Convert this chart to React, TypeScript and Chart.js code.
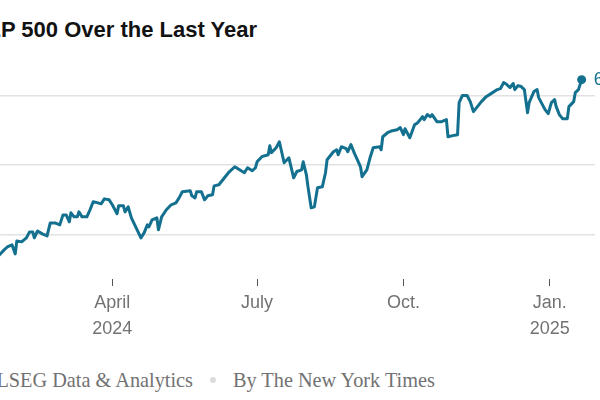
import React, { useEffect, useRef } from "react";
import { Chart, registerables } from "chart.js";

Chart.register(...registerables);

// ---- Data ----
const dates: string[] = [
  "2024-01-21", "2024-01-24", "2024-01-26", "2024-01-29", "2024-01-31", "2024-02-01", "2024-02-04", "2024-02-07",
  "2024-02-09", "2024-02-11", "2024-02-12", "2024-02-14", "2024-02-17", "2024-02-20", "2024-02-22", "2024-02-25",
  "2024-02-28", "2024-03-01", "2024-03-03", "2024-03-05", "2024-03-06", "2024-03-08", "2024-03-10", "2024-03-11",
  "2024-03-13", "2024-03-16", "2024-03-18", "2024-03-20", "2024-03-23", "2024-03-25", "2024-03-27", "2024-03-30",
  "2024-04-01", "2024-04-04", "2024-04-05", "2024-04-08", "2024-04-09", "2024-04-11", "2024-04-13", "2024-04-16",
  "2024-04-19", "2024-04-21", "2024-04-23", "2024-04-24", "2024-04-26", "2024-04-29", "2024-04-30", "2024-05-02",
  "2024-05-05", "2024-05-08", "2024-05-11", "2024-05-13", "2024-05-15", "2024-05-20", "2024-05-21", "2024-05-23",
  "2024-05-24", "2024-05-27", "2024-05-29", "2024-05-31", "2024-06-03", "2024-06-04", "2024-06-07", "2024-06-11",
  "2024-06-13", "2024-06-17", "2024-06-20", "2024-06-23", "2024-06-25", "2024-06-28", "2024-06-30", "2024-07-01",
  "2024-07-04", "2024-07-08", "2024-07-09", "2024-07-10", "2024-07-13", "2024-07-15", "2024-07-18", "2024-07-21",
  "2024-07-24", "2024-07-26", "2024-07-29", "2024-07-30", "2024-08-01", "2024-08-02", "2024-08-04", "2024-08-06",
  "2024-08-08", "2024-08-11", "2024-08-13", "2024-08-14", "2024-08-18", "2024-08-20", "2024-08-21", "2024-08-23",
  "2024-08-26", "2024-08-27", "2024-08-29", "2024-08-31", "2024-09-02", "2024-09-04", "2024-09-05", "2024-09-08",
  "2024-09-10", "2024-09-12", "2024-09-16", "2024-09-17", "2024-09-18", "2024-09-21", "2024-09-24", "2024-09-27",
  "2024-09-29", "2024-10-01", "2024-10-02", "2024-10-05", "2024-10-08", "2024-10-10", "2024-10-13", "2024-10-14",
  "2024-10-16", "2024-10-18", "2024-10-19", "2024-10-22", "2024-10-25", "2024-10-28", "2024-10-29", "2024-11-01",
  "2024-11-04", "2024-11-05", "2024-11-07", "2024-11-10", "2024-11-12", "2024-11-14", "2024-11-16", "2024-11-19",
  "2024-11-22", "2024-11-26", "2024-11-29", "2024-12-01", "2024-12-03", "2024-12-05", "2024-12-07", "2024-12-09",
  "2024-12-10", "2024-12-12", "2024-12-14", "2024-12-16", "2024-12-18", "2024-12-19", "2024-12-22", "2024-12-24",
  "2024-12-25", "2024-12-29", "2024-12-31", "2025-01-02", "2025-01-04", "2025-01-05", "2025-01-07", "2025-01-09",
  "2025-01-12", "2025-01-13", "2025-01-16", "2025-01-17", "2025-01-19", "2025-01-21",
];

const closes: number[] = [
  4851, 4888, 4909, 4924, 4859, 4953, 4946, 4975,
  5018, 5018, 4975, 5025, 5004, 4989, 5083, 5083,
  5069, 5141, 5141, 5091, 5156, 5127, 5127, 5163,
  5127, 5127, 5178, 5236, 5228, 5221, 5257, 5250,
  5214, 5149, 5207, 5207, 5163, 5199, 5120, 5047,
  4975, 5011, 5069, 5054, 5105, 5120, 5033, 5127,
  5178, 5214, 5228, 5264, 5308, 5315, 5279, 5264,
  5308, 5308, 5250, 5279, 5286, 5351, 5359, 5417,
  5446, 5489, 5467, 5446, 5482, 5460, 5482, 5525,
  5562, 5576, 5641, 5591, 5627, 5670, 5518, 5554,
  5409, 5455, 5467, 5525, 5431, 5344, 5192, 5199,
  5337, 5344, 5446, 5540, 5598, 5612, 5576, 5634,
  5620, 5598, 5649, 5591, 5540, 5489, 5417, 5467,
  5554, 5627, 5634, 5612, 5706, 5735, 5750, 5757,
  5772, 5721, 5764, 5699, 5793, 5808, 5851, 5830,
  5866, 5851, 5866, 5815, 5815, 5830, 5706, 5714,
  5721, 5953, 6004, 6004, 5960, 5888, 5917, 5960,
  5996, 6025, 6047, 6054, 6098, 6083, 6062, 6091,
  6047, 6076, 6069, 6047, 5880, 5953, 6033, 6047,
  5989, 5902, 5873, 5953, 5975, 5924, 5866, 5837,
  5837, 5924, 5960, 6025, 6047, 6119,
];

const xTickDates: string[] = ["2024-04-01", "2024-07-01", "2024-10-01", "2025-01-01"];
const xTickLabels: string[][] = [["April", "2024"], ["July"], ["Oct."], ["Jan.", "2025"]];
const yGridValues: number[] = [5000, 5500, 6000];

const titleText = "S&P 500 Over the Last Year";
const sourceText = "Source: LSEG Data & Analytics";
const creditText = "By The New York Times";

const LINE_COLOR = "#14708f";

const dayIndex = (s: string): number => {
  const [y, m, d] = s.split("-").map(Number);
  return (Date.UTC(y, m - 1, d) - Date.UTC(2024, 0, 1)) / 86400000;
};

export default function App() {
  const canvasRef = useRef<HTMLCanvasElement | null>(null);

  useEffect(() => {
    if (!canvasRef.current) return;
    const points = dates.map((d, i) => ({ x: dayIndex(d), y: closes[i] }));
    const tickDays = xTickDates.map(dayIndex);
    const lastIdx = points.length - 1;

    const endLabel = {
      id: "endLabel",
      afterDatasetsDraw(chart: any) {
        const meta = chart.getDatasetMeta(0);
        const pt = meta.data[meta.data.length - 1];
        if (!pt) return;
        const ctx = chart.ctx;
        ctx.save();
        ctx.font = '18px "Liberation Sans", Arial, sans-serif';
        ctx.fillStyle = LINE_COLOR;
        ctx.textBaseline = "middle";
        ctx.textAlign = "left";
        ctx.fillText(closes[lastIdx].toLocaleString("en-US"), pt.x + 12, pt.y);
        ctx.restore();
      },
    };

    const chart = new Chart(canvasRef.current, {
      type: "line",
      data: {
        datasets: [
          {
            data: points,
            parsing: false,
            borderColor: LINE_COLOR,
            backgroundColor: LINE_COLOR,
            borderWidth: 3,
            borderJoinStyle: "round",
            borderCapStyle: "round",
            tension: 0,
            pointRadius: (c: any) => (c.dataIndex === lastIdx ? 4.5 : 0),
            pointHoverRadius: 0,
            pointBorderWidth: 0,
          } as any,
        ],
      },
      options: {
        animation: false,
        responsive: true,
        maintainAspectRatio: false,
        layout: { padding: { top: 10, right: 5, left: 0, bottom: 0 } },
        plugins: { legend: { display: false }, tooltip: { enabled: false }, title: { display: false } },
        scales: {
          x: {
            type: "linear",
            min: 20.1,
            max: 394.4,
            afterBuildTicks: (scale: any) => {
              scale.ticks = tickDays.map((v) => ({ value: v }));
            },
            afterFit: (scale: any) => {
              scale.height = 71;
            },
            grid: {
              drawOnChartArea: false,
              drawTicks: true,
              tickLength: 7,
              tickColor: "#555555",
              tickWidth: 1,
            },
            border: { display: false },
            ticks: {
              autoSkip: false,
              maxRotation: 0,
              padding: 4,
              color: "#727272",
              font: { family: '"Liberation Sans", Arial, sans-serif', size: 18, lineHeight: 1.45 },
              callback: (value: any) => {
                const i = tickDays.indexOf(Number(value));
                return i >= 0 ? xTickLabels[i] : "";
              },
            },
          },
          y: {
            type: "linear",
            min: 4677.5,
            max: 6261,
            afterBuildTicks: (scale: any) => {
              scale.ticks = yGridValues.map((v) => ({ value: v }));
            },
            afterFit: (scale: any) => {
              scale.width = 0;
            },
            ticks: { display: false },
            grid: { color: "#e2e2e2", lineWidth: 1.5, drawTicks: false },
            border: { display: false },
          },
        },
      } as any,
      plugins: [endLabel],
    });

    return () => chart.destroy();
  }, []);

  const footerFont: React.CSSProperties = {
    position: "absolute",
    top: 370,
    whiteSpace: "nowrap",
    fontFamily: '"Liberation Serif", "Times New Roman", serif',
    fontSize: 20.3,
    lineHeight: "20px",
    color: "#727272",
  };

  return (
    <div
      style={{
        position: "absolute",
        left: 0,
        top: 0,
        width: 600,
        height: 400,
        overflow: "hidden",
        background: "#ffffff",
      }}
    >
      <div
        style={{
          position: "absolute",
          right: 343,
          top: 19,
          whiteSpace: "nowrap",
          fontFamily: '"Liberation Sans", Arial, sans-serif',
          fontWeight: 700,
          fontSize: 22,
          lineHeight: "22px",
          color: "#121212",
        }}
      >
        {titleText}
      </div>
      <div style={{ position: "absolute", left: -5, top: 50, width: 605, height: 300 }}>
        <canvas ref={canvasRef} />
      </div>
      <div style={{ ...footerFont, right: 407 }}>{sourceText}</div>
      <div
        style={{
          position: "absolute",
          left: 210,
          top: 377,
          width: 6,
          height: 6,
          borderRadius: 3,
          background: "#dcdcdc",
        }}
      />
      <div style={{ ...footerFont, left: 233 }}>{creditText}</div>
    </div>
  );
}
